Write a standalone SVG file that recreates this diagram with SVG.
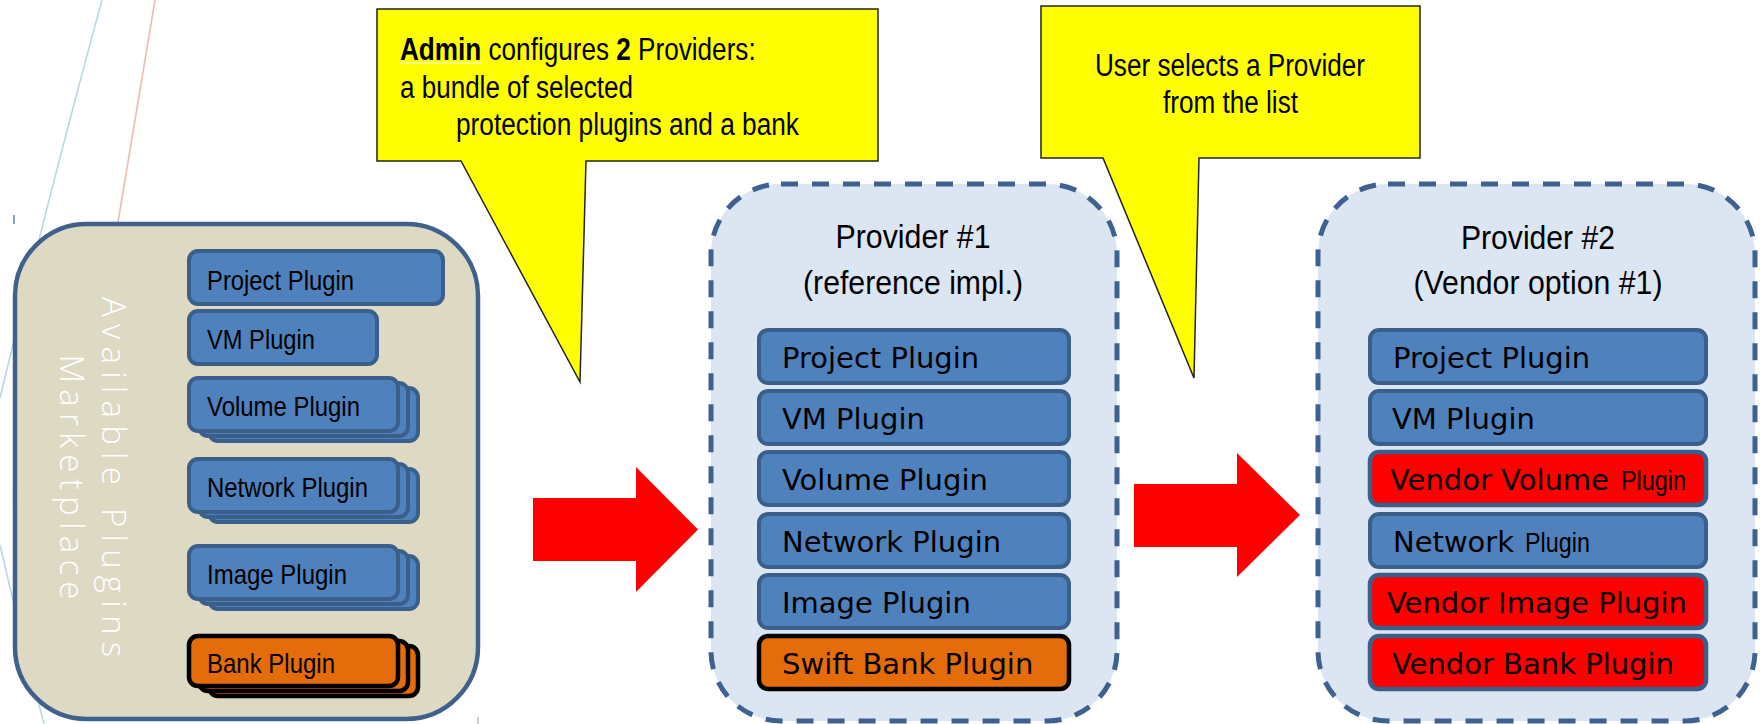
<svg xmlns="http://www.w3.org/2000/svg" width="1760" height="724" viewBox="0 0 1760 724">
<style>
.deco{fill:none;stroke-width:1.6}
.market{fill:#ddd9c3;stroke:#3f618c;stroke-width:4.5}
.prov{fill:#dce6f2;stroke:#3e6190;stroke-width:5;stroke-dasharray:17 14}
.pl{fill:#4f81bd;stroke:#3a5f8b;stroke-width:4}
.bank{fill:#e46c0a;stroke:#000;stroke-width:4.5}
.vend{fill:#ff0000;stroke:#3a5f8b;stroke-width:4.5}
.call{fill:#ffff00;stroke:#222;stroke-width:1.5}
.arrow{fill:#ff0000}
.n{font-family:"Liberation Sans Narrow","Liberation Sans",Arial,sans-serif;fill:#000}
.d{font-family:"DejaVu Sans",sans-serif;font-size:29px;fill:#000}
.lp{font-size:28.5px}
.ct{font-size:31px}
.b{font-weight:bold}
.tt{font-size:34px;text-anchor:middle}
.vt{font-family:"Open Sans","Liberation Sans",sans-serif;font-weight:300;font-size:33px;fill:#fff;text-anchor:middle}
</style>

<g id="decoration">
<path class="deco" stroke="#b9d8e2" d="M102,0 Q50,190 0,398"/>
<path class="deco" stroke="#b9d8e2" d="M0,545 Q22,640 44,724"/>
<path class="deco" stroke="#e8bdb6" d="M155,0 L118,222"/>
<line x1="14" y1="215" x2="14" y2="224" stroke="#41628c" stroke-width="1.2"/>
<line x1="478" y1="717" x2="478" y2="724" stroke="#b0b0b0" stroke-width="1.2"/>
</g>

<g id="marketplace">
<rect class="market" x="15" y="224" width="463" height="495" rx="72"/>
<text class="vt" transform="translate(102,477) rotate(90)" textLength="360" lengthAdjust="spacing">Available Plugins</text>
<text class="vt" transform="translate(60,477) rotate(90)" textLength="245" lengthAdjust="spacing">Marketplace</text>
</g>

<g id="m-project">
<rect class="pl" x="189" y="251" width="254" height="53" rx="9"/>
<text class="n lp" x="207" y="290" textLength="147" lengthAdjust="spacingAndGlyphs">Project Plugin</text>
</g>
<g id="m-vm">
<rect class="pl" x="189" y="311" width="188" height="53" rx="9"/>
<text class="n lp" x="207" y="349" textLength="108" lengthAdjust="spacingAndGlyphs">VM Plugin</text>
</g>
<g id="m-volume">
<rect class="pl" x="209" y="388" width="209" height="53" rx="9"/>
<rect class="pl" x="199" y="383" width="209" height="53" rx="9"/>
<rect class="pl" x="189" y="378" width="209" height="53" rx="9"/>
<text class="n lp" x="207" y="416" textLength="153" lengthAdjust="spacingAndGlyphs">Volume Plugin</text>
</g>
<g id="m-network">
<rect class="pl" x="209" y="469" width="209" height="53" rx="9"/>
<rect class="pl" x="199" y="464" width="209" height="53" rx="9"/>
<rect class="pl" x="189" y="459" width="209" height="53" rx="9"/>
<text class="n lp" x="207" y="497" textLength="161" lengthAdjust="spacingAndGlyphs">Network Plugin</text>
</g>
<g id="m-image">
<rect class="pl" x="209" y="556" width="209" height="53" rx="9"/>
<rect class="pl" x="199" y="551" width="209" height="53" rx="9"/>
<rect class="pl" x="189" y="546" width="209" height="53" rx="9"/>
<text class="n lp" x="207" y="584" textLength="140" lengthAdjust="spacingAndGlyphs">Image Plugin</text>
</g>
<g id="m-bank">
<rect class="bank" x="209" y="646" width="209" height="50" rx="9"/>
<rect class="bank" x="199" y="641" width="209" height="50" rx="9"/>
<rect class="bank" x="189" y="636" width="209" height="50" rx="9"/>
<text class="n lp" x="207" y="673" textLength="128" lengthAdjust="spacingAndGlyphs">Bank Plugin</text>
</g>

<g id="callout-admin">
<path class="call" d="M377,9 H878 V161 H586 L580,382 L461,161 H377 Z"/>
<text class="n ct" transform="translate(400,60) scale(0.843,1)"><tspan class="b">Admin</tspan> configures <tspan class="b">2</tspan> Providers:</text>
<line x1="400" y1="63" x2="481" y2="63" stroke="#fff" stroke-width="1.2"/>
<text class="n ct" x="400" y="98" textLength="233" lengthAdjust="spacingAndGlyphs">a bundle of selected</text>
<text class="n ct" x="456" y="135" textLength="343" lengthAdjust="spacingAndGlyphs">protection plugins and a bank</text>
</g>

<g id="callout-user">
<path class="call" d="M1041,6 H1420 V158 H1199 L1194,378 L1103,158 H1041 Z"/>
<text class="n ct" x="1095" y="76" textLength="270" lengthAdjust="spacingAndGlyphs">User selects a Provider</text>
<text class="n ct" x="1163" y="113" textLength="135" lengthAdjust="spacingAndGlyphs">from the list</text>
</g>

<g id="connectors">
<polygon class="arrow" points="533,498 636,498 636,467 698,529.5 636,592 636,561 533,561"/>
<polygon class="arrow" points="1134,484 1237,484 1237,453 1300,515 1237,577 1237,547 1134,547"/>
</g>

<g id="provider1">
<rect class="prov" x="711" y="184" width="406" height="537" rx="70"/>
<text class="n tt" x="913" y="248" textLength="155" lengthAdjust="spacingAndGlyphs">Provider #1</text>
<text class="n tt" x="913" y="294" textLength="220" lengthAdjust="spacingAndGlyphs">(reference impl.)</text>
</g>
<g id="p1-project"><rect class="pl" x="759" y="330" width="310" height="53" rx="9"/><text class="d" x="782" y="368">Project Plugin</text></g>
<g id="p1-vm"><rect class="pl" x="759" y="391" width="310" height="53" rx="9"/><text class="d" x="782" y="429">VM Plugin</text></g>
<g id="p1-volume"><rect class="pl" x="759" y="452" width="310" height="53" rx="9"/><text class="d" x="782" y="490">Volume Plugin</text></g>
<g id="p1-network"><rect class="pl" x="759" y="514" width="310" height="53" rx="9"/><text class="d" x="782" y="552">Network Plugin</text></g>
<g id="p1-image"><rect class="pl" x="759" y="575" width="310" height="53" rx="9"/><text class="d" x="782" y="613">Image Plugin</text></g>
<g id="p1-bank"><rect class="bank" x="759" y="636" width="310" height="53" rx="9"/><text class="d" x="782" y="674">Swift Bank Plugin</text></g>

<g id="provider2">
<rect class="prov" x="1318" y="184" width="437" height="537" rx="70"/>
<text class="n tt" x="1538" y="249" textLength="154" lengthAdjust="spacingAndGlyphs">Provider #2</text>
<text class="n tt" x="1538" y="294" textLength="249" lengthAdjust="spacingAndGlyphs">(Vendor option #1)</text>
</g>
<g id="p2-project"><rect class="pl" x="1370" y="330" width="336" height="53" rx="9"/><text class="d" x="1393" y="368">Project Plugin</text></g>
<g id="p2-vm"><rect class="pl" x="1370" y="391" width="336" height="53" rx="9"/><text class="d" x="1392" y="429">VM Plugin</text></g>
<g id="p2-volume"><rect class="vend" x="1370" y="452" width="336" height="53" rx="9"/><text class="d" x="1390" y="490">Vendor Volume</text><text class="n" font-size="28px" x="1621" y="490" textLength="65" lengthAdjust="spacingAndGlyphs">Plugin</text></g>
<g id="p2-network"><rect class="pl" x="1370" y="514" width="336" height="53" rx="9"/><text class="d" x="1393" y="552">Network</text><text class="n" font-size="28px" x="1525" y="552" textLength="65" lengthAdjust="spacingAndGlyphs">Plugin</text></g>
<g id="p2-image"><rect class="vend" x="1370" y="575" width="336" height="53" rx="9"/><text class="d" x="1387" y="613">Vendor Image Plugin</text></g>
<g id="p2-bank"><rect class="vend" x="1370" y="636" width="336" height="53" rx="9"/><text class="d" x="1392" y="674">Vendor Bank Plugin</text></g>
</svg>
